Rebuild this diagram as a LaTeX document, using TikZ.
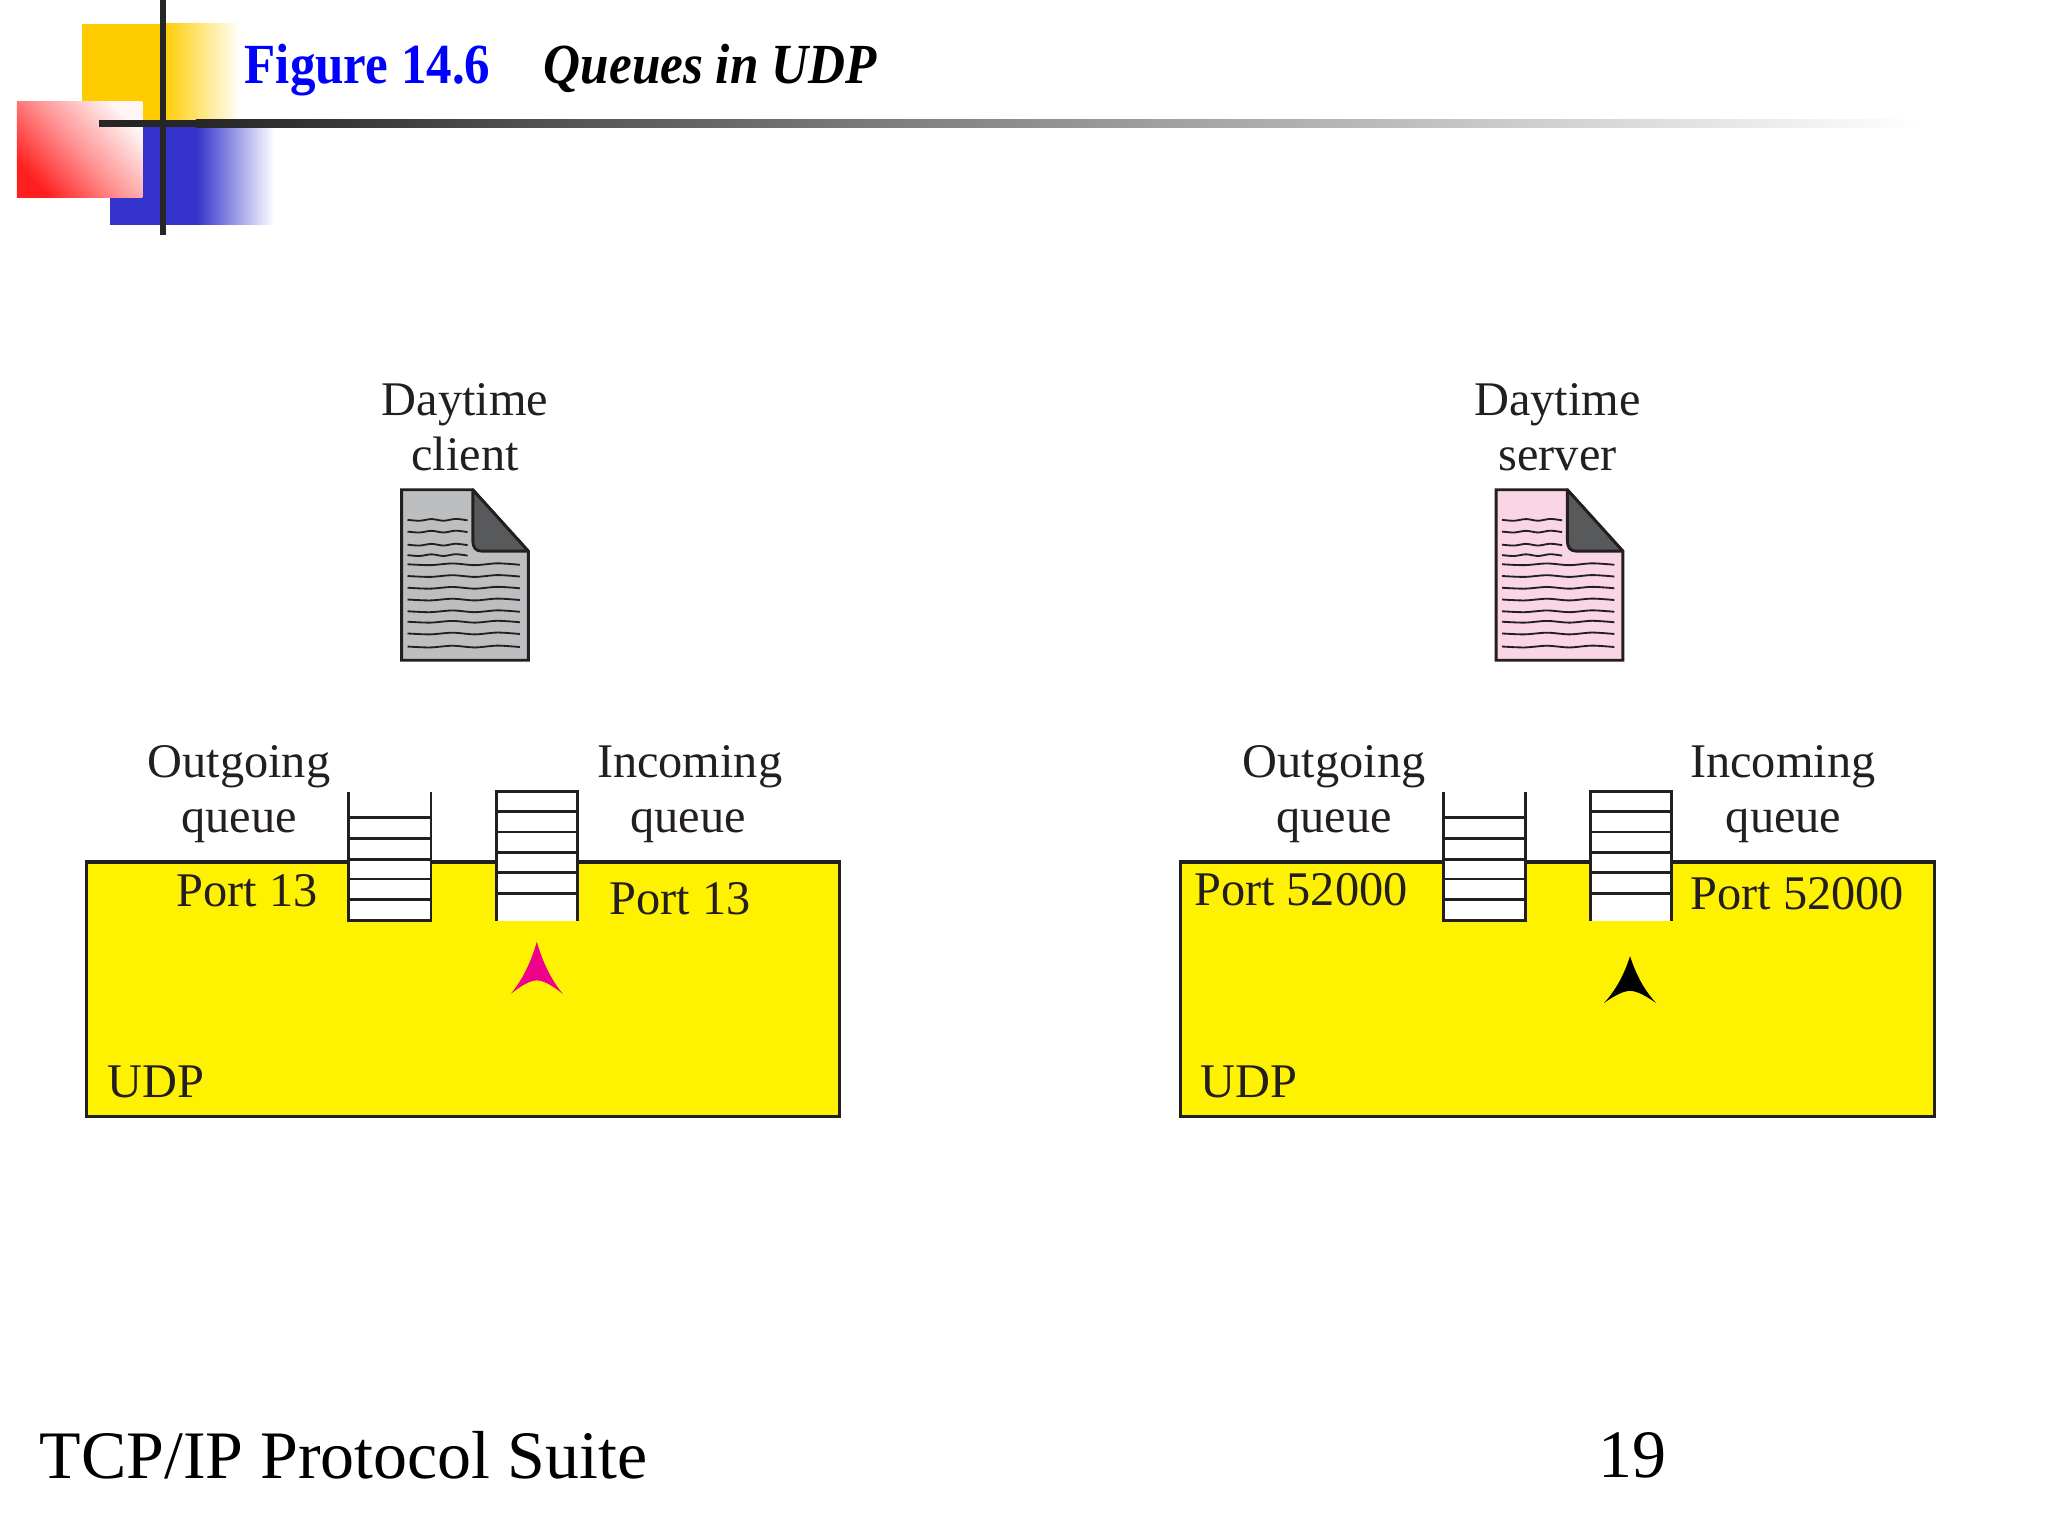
\documentclass[tikz,border=0pt]{standalone}
\usepackage{fontspec}
\usepackage{graphicx}
\setmainfont{Liberation Serif}
\definecolor{ink}{HTML}{231F20}
\definecolor{udpyellow}{HTML}{FFF200}
\definecolor{foldgrey}{HTML}{58595B}
\definecolor{docgrey}{HTML}{BCBEC0}
\definecolor{docpink}{HTML}{F9D5E5}
\definecolor{hotpink}{HTML}{EC008C}
\definecolor{goldy}{HTML}{FFCC00}
\definecolor{bluey}{HTML}{3333CC}
\definecolor{bar}{HTML}{262626}
\newcommand{\wavy}[3]{\draw[wave] plot[smooth] coordinates {(#1,#3) ({#1+(#2-#1)*.2},#3+.7) ({#1+(#2-#1)*.4},#3-.6) ({#1+(#2-#1)*.6},#3+.7) ({#1+(#2-#1)*.8},#3-.7) (#2,#3+.4)};}
\newcommand{\sidepanel}[3]{%
 \begin{scope}[xshift=#1*0.5pt]
  % file icon
  \draw[outl,fill=#2,line join=miter] (307.5,375) -- (362,375) -- (404.5,422) -- (404.5,505.5) -- (307.5,505.5) -- cycle;
  \foreach \yy in {398,407,417,425}{\wavy{312}{358}{\yy}}
  \foreach \yy in {432,441,450,459,468,476,485,495}{\wavy{312}{398}{\yy}}
  \draw[outl,fill=foldgrey,line join=round] (362,375) -- (404.5,422) -- (369,422) .. controls (364,422) and (362,419) .. (362,414) -- cycle;
  % UDP block
  \draw[boxl,fill=udpyellow] (66,660) rectangle (643,855);
  % outgoing queue: open at top
  \fill[white] (267,606) rectangle (330,705);
  \draw[qline] (267,606) -- (267,705) -- (330,705) -- (330,606);
  \foreach \yy in {626,642,658,673,689}{\draw[qline] (267,\yy) -- (330,\yy);}
  % incoming queue: open at bottom
  \fill[white] (380,606) rectangle (442,705);
  \draw[qline] (380,705) -- (380,606) -- (442,606) -- (442,705);
  \foreach \yy in {621,637,653,668,684}{\draw[qline] (380,\yy) -- (442,\yy);}
 \end{scope}}
\newcommand{\headarrow}[4]{\fill[#3] (#1,#2) .. controls (#1+4,#2+#4*.35) and (#1+10,#2+#4*.7) .. (#1+20,#2+#4) .. controls (#1+12,#2+#4*.84) and (#1+5,#2+#4*.74) .. (#1,#2+#4*.74) .. controls (#1-5,#2+#4*.74) and (#1-12,#2+#4*.84) .. (#1-20,#2+#4) .. controls (#1-10,#2+#4*.7) and (#1-4,#2+#4*.35) .. cycle;}
\tikzset{
 outl/.style={draw=ink,line width=1.1pt},
 boxl/.style={draw=ink,line width=1.2pt},
 qline/.style={draw=ink,line width=1.1pt},
 wave/.style={draw=ink,line width=.7pt},
 lab/.style={anchor=base,inner sep=0pt,text=ink,font=\fontsize{18.5}{20}\selectfont},
 foot/.style={anchor=base,inner sep=0pt,text=black,font=\fontsize{26}{28}\selectfont},
}
\begin{document}
\begin{tikzpicture}[x=0.5pt,y=-0.5pt]
\useasboundingbox (0,0) rectangle (1568,1176);
\fill[white] (0,0) rectangle (1568,1176);
% decoration
\fill[goldy] (63,18) rectangle (125,95);
\shade[left color=goldy,right color=white] (125,18) rectangle (184,95);
\fill[bluey] (84,95) rectangle (150,172);
\shade[left color=bluey,right color=white] (150,95) rectangle (210,172);
\shade[shading=axis,bottom color=red!88!white,top color=red!4,middle color=red!42,shading angle=-48] (13,78) rectangle (109,151);
\shade[left color=bar,right color=white] (150,91.5) rectangle (1470,97.5);
\fill[bar] (76,91.5) rectangle (150,97.5);
\fill[bar] (122.8,0) rectangle (127.2,180);
% title
\node[anchor=base west,inner sep=0pt,text=blue,font=\fontsize{21.7}{24}\selectfont\bfseries] (figno) at (187,64) {\scalebox{.9}[1]{Figure 14.6}};
\node[anchor=base west,inner sep=0pt,text=black,font=\fontsize{21.7}{24}\selectfont\bfseries\itshape] (figtitle) at (416,64) {\scalebox{.903}[1]{Queues in UDP}};
% panels
\sidepanel{0}{docgrey}{}
\sidepanel{838}{docpink}{}
\headarrow{411}{721}{hotpink}{40}
\headarrow{1248}{732}{black}{36}
% left labels
\node[lab] (d1) at (356,318) {Daytime};
\node[lab] (c1) at (356,360) {client};
\node[lab] (o1) at (183,595) {Outgoing};
\node[lab] (oq1) at (183,637) {queue};
\node[lab] (i1) at (528,595) {Incoming};
\node[lab] (iq1) at (527,637) {queue};
\node[lab] (p1) at (189,694) {Port 13};
\node[lab] (p2) at (520.5,700) {Port 13};
\node[lab,anchor=base west] (u1) at (82,840) {UDP};
% right labels
\node[lab] (d2) at (1192.5,318) {Daytime};
\node[lab] (c2) at (1192.5,360) {server};
\node[lab] (o2) at (1021.5,595) {Outgoing};
\node[lab] (oq2) at (1021.5,637) {queue};
\node[lab] (i2) at (1365,595) {Incoming};
\node[lab] (iq2) at (1365.5,637) {queue};
\node[lab] (p3) at (996,693) {Port 52000};
\node[lab] (p4) at (1376,696) {Port 52000};
\node[lab,anchor=base west] (u2) at (919,840) {UDP};
% footer
\node[foot,anchor=base west] (suite) at (30,1132) {TCP/IP Protocol Suite};
\node[foot] (pg) at (1250,1131) {19};
\end{tikzpicture}
\end{document}
